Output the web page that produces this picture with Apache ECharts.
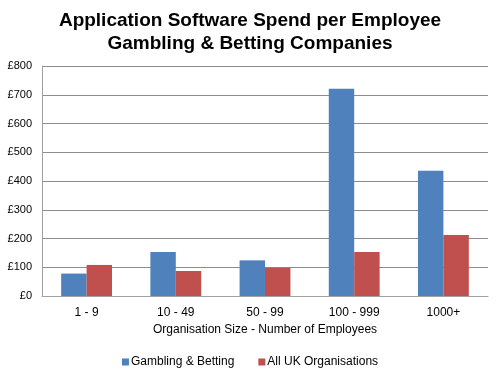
<!DOCTYPE html>
<html>
<head>
<meta charset="utf-8">
<script src="https://cdn.jsdelivr.net/npm/echarts@6/dist/echarts.min.js"></script>
<style>
  html, body { margin: 0; padding: 0; background: #fff; }
  #chart { width: 500px; height: 376px; }
</style>
</head>
<body>
<div id="chart"></div>
<script>
const categories = ['1 - 9', '10 - 49', '50 - 99', '100 - 999', '1000+'];
const gambling = [78, 153, 124, 721, 436];
const allUk = [108, 87, 98, 153, 212];
const yTicks = [0, 100, 200, 300, 400, 500, 600, 700, 800];

const font = 'Arial, "Liberation Sans", sans-serif';
const chart = echarts.init(document.getElementById('chart'));
chart.setOption({
  animation: false,
  textStyle: { fontFamily: font },
  title: {
    text: 'Application Software Spend per Employee\nGambling & Betting Companies',
    left: 'center',
    top: 4,
    textStyle: { fontSize: 19, fontWeight: 'bold', color: '#000', lineHeight: 23, fontFamily: font }
  },
  legend: {
    bottom: 3,
    left: 'center',
    itemWidth: 7,
    itemHeight: 7,
    itemGap: 24,
    icon: 'rect',
    textStyle: { fontSize: 12, color: '#000', padding: [0, 0, 0, -3] },
    data: ['Gambling & Betting', 'All UK Organisations']
  },
  grid: { left: 42, right: 12, top: 66, bottom: 80 },
  xAxis: {
    type: 'category',
    data: categories,
    name: 'Organisation Size - Number of Employees',
    nameLocation: 'middle',
    nameGap: 28,
    nameTextStyle: { fontSize: 12, color: '#000' },
    axisLine: { lineStyle: { color: '#a0a0a0', width: 1 } },
    axisTick: { show: false },
    axisLabel: { fontSize: 12, color: '#000', margin: 11 }
  },
  yAxis: {
    type: 'value',
    min: yTicks[0],
    max: yTicks[yTicks.length - 1],
    interval: 100,
    axisLine: { show: true, lineStyle: { color: '#a0a0a0' } },
    axisTick: { show: false },
    splitLine: { lineStyle: { color: '#8c8c8c' } },
    axisLabel: { fontSize: 11, color: '#000', margin: 10, formatter: v => '£' + v }
  },
  series: [
    {
      name: 'Gambling & Betting',
      type: 'bar',
      data: gambling,
      barGap: '0%',
      barCategoryGap: '43%',
      itemStyle: { color: '#4F81BD' }
    },
    {
      name: 'All UK Organisations',
      type: 'bar',
      data: allUk,
      itemStyle: { color: '#C0504D' }
    }
  ]
});
</script>
</body>
</html>
